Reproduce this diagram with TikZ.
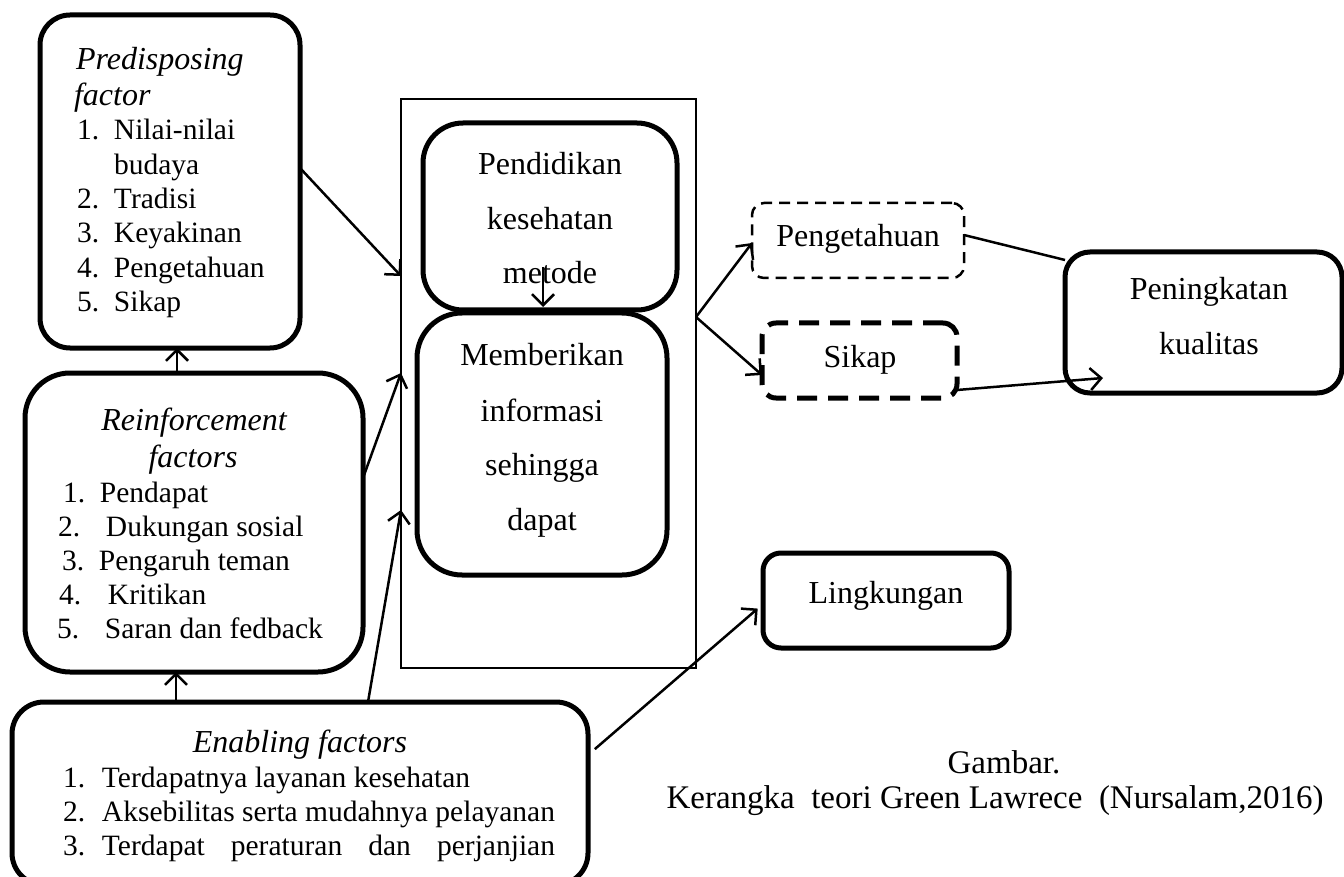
\documentclass[tikz,border=0pt]{standalone}
\usepackage{fontspec}
\setmainfont{Liberation Serif}
\usetikzlibrary{arrows.meta}
\begin{document}
\begin{tikzpicture}[x=1pt,y=-1pt,
  box/.style={draw, line width=5pt, rounded corners=#1, inner sep=0pt, outer sep=0pt},
  box/.default=30pt,
  frm/.style={draw, line width=2.5pt, inner sep=0pt, outer sep=0pt},
  txt/.style={inner sep=0pt, outer sep=0pt, font=\fontsize{29.5}{34.5}\selectfont},
  hdr/.style={inner sep=0pt, outer sep=0pt, font=\fontsize{32}{36}\selectfont\itshape},
  big/.style={inner sep=0pt, outer sep=0pt, font=\fontsize{32}{36}\selectfont},
  captxt/.style={inner sep=0pt, outer sep=0pt, font=\fontsize{33}{36}\selectfont},
  arr/.style={line width=2.5pt, -{Straight Barb[length=11pt,width=22pt]}},
  con/.style={line width=2.5pt}
]
\clip (0,0) rectangle (1344,877);
\fill[white] (0,0) rectangle (1344,877);

% boxes
\node[box=30pt, minimum width=260pt, minimum height=333pt] (pre) at (170,181.5) {};
\node[box=45pt, minimum width=338pt, minimum height=299pt] (rein) at (194,522.5) {};
\node[box=32pt, minimum width=576pt, minimum height=183pt] (enab) at (300,793.5) {};
\node[frm, minimum width=295pt, minimum height=569pt] (frame) at (548.5,383.5) {};
\node[box=40pt, minimum width=254pt, minimum height=187pt] (pend) at (550,216.5) {};
\node[box=45pt, minimum width=250pt, minimum height=262pt] (memb) at (542,444) {};
\node[box=12pt, line width=2.5pt, dash pattern=on 11pt off 7pt, minimum width=212pt, minimum height=75pt] (peng) at (858,240.5) {};
\node[box=14pt, dash pattern=on 20pt off 11pt, minimum width=195pt, minimum height=75pt] (sikap) at (859.5,360.5) {};
\node[box=25pt, minimum width=277pt, minimum height=141pt] (pening) at (1203.5,322.5) {};
\node[box=18pt, minimum width=246pt, minimum height=95pt] (ling) at (886,600.5) {};

% Predisposing texts
\node[hdr, anchor=base west] (p0) at (76,70) {Predisposing};
\node[hdr, anchor=base west] (p1) at (74,106) {factor};
\node[txt, anchor=base west] (p2) at (77,140) {\makebox[37pt][l]{1.}Nilai-nilai};
\node[txt, anchor=base west] (p3) at (114,174.5) {budaya};
\node[txt, anchor=base west] (p4) at (77,209) {\makebox[37pt][l]{2.}Tradisi};
\node[txt, anchor=base west] (p5) at (77,243) {\makebox[37pt][l]{3.}Keyakinan};
\node[txt, anchor=base west] (p6) at (77,277.5) {\makebox[37pt][l]{4.}Pengetahuan};
\node[txt, anchor=base west] (p7) at (77,312) {\makebox[37pt][l]{5.}Sikap};

% Reinforcement texts
\node[hdr, anchor=base] (r0) at (194,430) {Reinforcement};
\node[hdr, anchor=base] (r1) at (193,467) {factors};
\node[txt, anchor=base west] (r2) at (63,502) {\makebox[37pt][l]{1.}Pendapat};
\node[txt, anchor=base west] (r3) at (58,536) {\makebox[48pt][l]{2.}Dukungan sosial};
\node[txt, anchor=base west] (r4) at (62,570) {\makebox[37pt][l]{3.}Pengaruh teman};
\node[txt, anchor=base west] (r5) at (59,604) {\makebox[49pt][l]{4.}Kritikan};
\node[txt, anchor=base west] (r6) at (57,638) {\makebox[48pt][l]{5.}Saran dan fedback};

% Enabling texts
\node[hdr, anchor=base] (e0) at (300,752) {Enabling factors};
\node[txt, anchor=base west] (e1) at (63,787) {\makebox[39pt][l]{1.}Terdapatnya layanan kesehatan};
\node[txt, anchor=base west] (e2) at (63,821) {\makebox[39pt][l]{2.}Aksebilitas serta mudahnya pelayanan};
\node[txt, anchor=base west] (e3) at (63,855) {\makebox[39pt][l]{3.}\hbox to 453pt{Terdapat\hfill peraturan\hfill dan\hfill perjanjian}};

% middle texts
\node[big, anchor=base] (d0) at (550,175) {Pendidikan};
\node[big, anchor=base] (d1) at (550,230) {kesehatan};
\node[big, anchor=base] (d2) at (550,284) {metode};
\node[big, anchor=base] (m0) at (542,365) {Memberikan};
\node[big, anchor=base] (m1) at (542,421) {informasi};
\node[big, anchor=base] (m2) at (542,475) {sehingga};
\node[big, anchor=base] (m3) at (542,530) {dapat};

% right texts
\node[big, anchor=base] (g0) at (858,247) {Pengetahuan};
\node[big, anchor=base] (s0) at (860,367) {Sikap};
\node[big, anchor=base] (k0) at (1209,300) {Peningkatan};
\node[big, anchor=base] (k1) at (1209,355) {kualitas};
\node[big, anchor=base] (l0) at (886,603) {Lingkungan};
\node[captxt, anchor=base] (c0) at (1004,773) {Gambar.};
\node[captxt, anchor=base] (c1) at (995,808) {Kerangka\ \ teori Green Lawrece\ \ (Nursalam,2016)};

% connectors
\draw[arr] (pre.east |- 0,168) -- (frame.west |- 0,276);
\draw[arr] (rein.east |- 0,478) -- (frame.west |- 0,373);
\draw[arr] (enab.north -| 368,0) -- (frame.west |- 0,510);
\draw[arr] (rein.north -| 177,0) -- (pre.south -| 177,0);
\draw[arr] (enab.north -| 176,0) -- (rein.south -| 176,0);
\draw[arr, shorten <=9pt, shorten >=7pt] (enab.east |- 0,755) -- (ling.west |- 0,604);
\coordinate (mtop) at (543,267);
\draw[arr, shorten >=3pt] (mtop) -- (pend.south -| mtop);
\draw[arr] (frame.east |- 0,317) -- (peng.west |- 0,243);
\draw[arr] (frame.east |- 0,317) -- (sikap.west |- 0,375);
\draw[con] (peng.east |- 0,235) -- (pening.west |- 0,260);
\coordinate (ptip) at (1103,378);
\draw[arr] (sikap.east |- 0,390) -- (ptip);
\end{tikzpicture}
\end{document}
